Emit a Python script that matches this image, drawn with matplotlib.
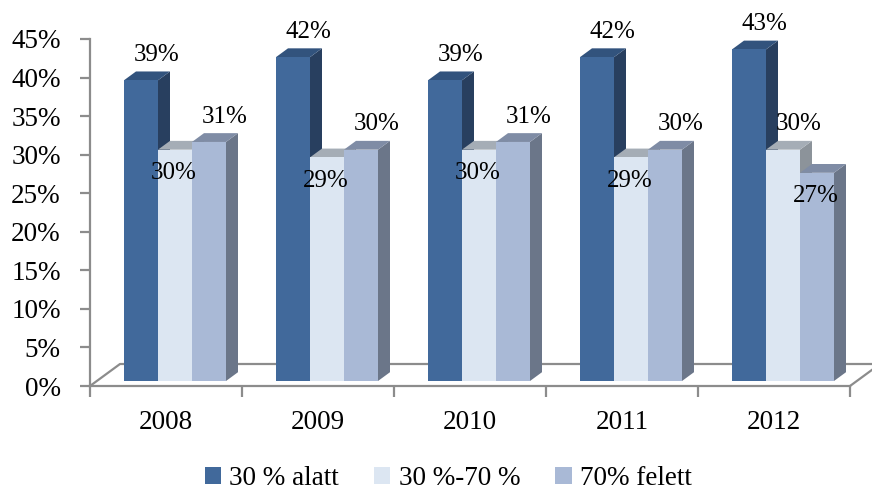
import numpy as np
import matplotlib.pyplot as plt
from matplotlib.patches import Polygon, Patch

# data
years = ['2008', '2009', '2010', '2011', '2012']
series = ['30 % alatt', '30 %-70 %', '70% felett']
alatt = [39, 42, 39, 42, 43]
kozep = [30, 29, 30, 29, 30]
felett = [31, 30, 31, 30, 27]
values = [alatt, kozep, felett]

# where the data label sits: above or below the top of the bar
label_side = [
    ['up', 'up', 'up', 'up', 'up'],
    ['down', 'down', 'down', 'down', 'up'],
    ['up', 'up', 'up', 'up', 'down'],
]

# colours: front, top, side
front_cols = ['#41699b', '#dce6f2', '#a9b9d6']
top_cols = ['#32537d', '#a5adb6', '#7f8ca5']
side_cols = ['#283f5f', '#8c939a', '#6b7689']

plt.rcParams['font.family'] = ['Liberation Serif', 'DejaVu Serif']

fig = plt.figure(figsize=(8.72, 4.94), dpi=100)
ax = fig.add_axes([90 / 872, 108 / 494, 760 / 872, 347 / 494])
ax.set_xlim(-0.5, 4.5)
ax.set_ylim(0, 45)

# pseudo 3d geometry (in data units)
px_x = 152.0
px_y = 347.0 / 45
floor_dx, floor_dy = 30 / px_x, 22 / px_y
shift_x, shift_y = 9 / px_x, 5 / px_y
depth_x, depth_y = 12 / px_x, 8.8 / px_y
bar_w = 34 / px_x

grey = '#8c8c8c'

# floor outline (back and sides)
n = len(years)
ax.plot([-0.5, -0.5 + floor_dx, n - 0.5 + floor_dx, n - 0.5],
        [0, floor_dy, floor_dy, 0], color=grey, lw=1.6, clip_on=False, zorder=1)

for i in range(n):
    for s in range(3):
        v = values[s][i]
        x0 = i - 1.5 * bar_w + s * bar_w + shift_x
        x1 = x0 + bar_w
        y0 = shift_y
        y1 = y0 + v
        side = [(x1, y0), (x1 + depth_x, y0 + depth_y), (x1 + depth_x, y1 + depth_y), (x1, y1)]
        top = [(x0, y1), (x0 + depth_x, y1 + depth_y), (x1 + depth_x, y1 + depth_y), (x1, y1)]
        front = [(x0, y0), (x1, y0), (x1, y1), (x0, y1)]
        z = 2 + s * 0.1
        ax.add_patch(Polygon(side, closed=True, facecolor=side_cols[s], edgecolor='none', zorder=z, clip_on=False))
        ax.add_patch(Polygon(top, closed=True, facecolor=top_cols[s], edgecolor='none', zorder=z, clip_on=False))
        ax.add_patch(Polygon(front, closed=True, facecolor=front_cols[s], edgecolor='none', zorder=z, clip_on=False))

        cx = (x0 + x1) / 2
        if label_side[s][i] == 'up':
            ax.text(cx + 0.1, y1 + 3.3, f'{v}%', ha='center', va='center', fontsize=18, zorder=5)
        else:
            ax.text(cx - 0.01, y1 - 3.0, f'{v}%', ha='center', va='center', fontsize=18, zorder=5)

# axes styling
for sp in ['top', 'right']:
    ax.spines[sp].set_visible(False)
for sp in ['left', 'bottom']:
    ax.spines[sp].set_color(grey)
    ax.spines[sp].set_linewidth(1.6)

yt = list(range(0, 50, 5))
ax.set_yticks(yt)
ax.set_yticklabels([f'{t}%' for t in yt])
ax.tick_params(axis='y', length=7, width=1.6, color=grey, pad=14, labelsize=19.5)

ax.set_xticks(np.arange(-0.5, n, 1.0))
ax.set_xticklabels([])
ax.set_xticks(range(n), minor=True)
ax.set_xticklabels(years, minor=True)
ax.tick_params(axis='x', which='major', length=8, width=1.6, color=grey)
ax.tick_params(axis='x', which='minor', length=0, pad=17, labelsize=19.5)

handles = [Patch(facecolor=c, edgecolor='none') for c in front_cols]
fig.legend(handles, series, loc='center', bbox_to_anchor=(0.514, 0.032), ncol=3,
           frameon=False, fontsize=19.5, handlelength=0.6, handleheight=0.6,
           handletextpad=0.3, columnspacing=1.3, borderpad=0.1)

fig.savefig('out.png', dpi=100)
